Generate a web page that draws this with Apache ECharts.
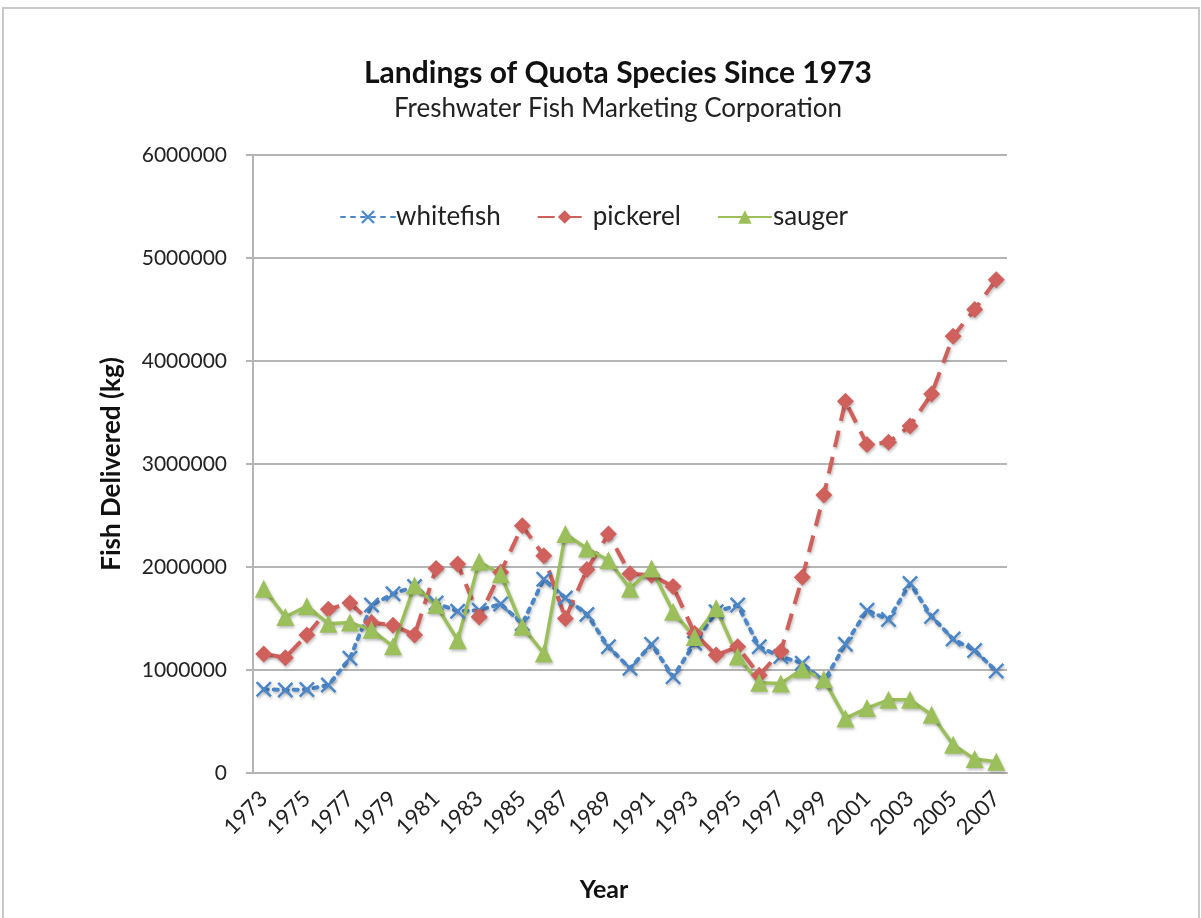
<!DOCTYPE html>
<html>
<head>
<meta charset="utf-8">
<script src="https://cdn.jsdelivr.net/npm/echarts@6/dist/echarts.min.js"></script>
<style>
html,body{margin:0;padding:0;background:#fff;}
#c{width:1201px;height:918px;}
</style>
</head>
<body>
<div id="c"></div>
<script>
const years = ['1973','1974','1975','1976','1977','1978','1979','1980','1981','1982','1983','1984','1985','1986','1987','1988','1989','1990','1991','1992','1993','1994','1995','1996','1997','1998','1999','2000','2001','2002','2003','2004','2005','2006','2007'];
const whitefish = [813000,806000,810000,855000,1113000,1630000,1740000,1810000,1650000,1570000,1580000,1640000,1450000,1880000,1700000,1540000,1225000,1016000,1250000,935000,1260000,1565000,1630000,1225000,1130000,1065000,890000,1250000,1580000,1490000,1840000,1520000,1300000,1190000,990000];
const pickerel = [1155000,1120000,1340000,1590000,1650000,1460000,1435000,1340000,1985000,2030000,1515000,1950000,2400000,2110000,1500000,1975000,2320000,1935000,1920000,1810000,1355000,1145000,1225000,950000,1180000,1900000,2700000,3610000,3190000,3210000,3370000,3680000,4240000,4500000,4790000];
const sauger = [1790000,1515000,1620000,1450000,1460000,1390000,1230000,1820000,1630000,1290000,2050000,1930000,1420000,1160000,2320000,2180000,2065000,1790000,1985000,1565000,1320000,1600000,1130000,877000,870000,1007000,910000,530000,630000,710000,710000,565000,274000,135000,110000];
const yTicks = [0,1000000,2000000,3000000,4000000,5000000,6000000];

const FONT = 'Lato';
const xPath = 'path://M0,1.1 L1.1,0 L5,3.9 L8.9,0 L10,1.1 L6.1,5 L10,8.9 L8.9,10 L5,6.1 L1.1,10 L0,8.9 L3.9,5 Z';
const shadow = {shadowBlur:3, shadowColor:'rgba(0,0,0,0.25)', shadowOffsetX:1, shadowOffsetY:2};

const chart = echarts.init(document.getElementById('c'));
chart.setOption({
  backgroundColor:'#fff',
  animation:false,
  graphic:[{type:'rect', shape:{x:3,y:8,width:1196,height:930}, style:{fill:'none', stroke:'#c8c8c8', lineWidth:2}, silent:true}],
  title:{
    text:'Landings of Quota Species Since 1973',
    subtext:'Freshwater Fish Marketing Corporation',
    left:613, textAlign:'center', top:53, itemGap:8,
    textStyle:{fontFamily:FONT, fontSize:30, fontWeight:'bold', color:'#111'},
    subtextStyle:{fontFamily:FONT, fontSize:26, color:'#222'}
  },
  legend:{
    top:199, left:335, itemGap:36, itemWidth:54, itemHeight:17,
    textStyle:{fontFamily:FONT, fontSize:26, color:'#222', padding:[0,0,0,-4]},
    data:['whitefish','pickerel','sauger']
  },
  grid:{left:253, right:194, top:155, bottom:145, containLabel:false},
  xAxis:{
    type:'category', data:years, boundaryGap:true,
    name:'Year', nameLocation:'middle', nameGap:104,
    nameTextStyle:{fontFamily:FONT, fontSize:25, fontWeight:'bold', color:'#111', padding:[0,52,0,0]},
    axisLine:{lineStyle:{color:'#b4b4b4', width:2}},
    axisTick:{interval:0, length:7, lineStyle:{color:'#b4b4b4', width:2}},
    axisLabel:{interval:1, rotate:45, margin:22, fontFamily:FONT, fontSize:22, color:'#222'}
  },
  yAxis:{
    type:'value', min:0, max:6000000, interval:1000000,
    name:'Fish Delivered (kg)', nameLocation:'middle', nameGap:128,
    nameTextStyle:{fontFamily:FONT, fontSize:26, fontWeight:'bold', color:'#111'},
    axisLine:{show:true, lineStyle:{color:'#b4b4b4', width:2}},
    axisTick:{show:true, length:7, lineStyle:{color:'#b4b4b4', width:2}},
    splitLine:{lineStyle:{color:'#b4b4b4', width:2}},
    axisLabel:{margin:26, fontFamily:FONT, fontSize:21, color:'#222',
      customValues: yTicks, formatter:v=>String(v)}
  },
  series:[
    {name:'whitefish', type:'line', data:whitefish, symbol:xPath, symbolSize:16, showAllSymbol:true,
     lineStyle:Object.assign({color:'#4A86C8', width:4, type:[4,6], cap:'round'}, shadow),
     itemStyle:Object.assign({color:'#4A86C8'}, shadow)},
    {name:'pickerel', type:'line', data:pickerel, symbol:'diamond', symbolSize:17, showAllSymbol:true,
     lineStyle:Object.assign({color:'#D0605B', width:4, type:[17,10]}, shadow),
     itemStyle:Object.assign({color:'#D0605B'}, shadow)},
    {name:'sauger', type:'line', data:sauger, symbol:'triangle', symbolSize:18, showAllSymbol:true,
     lineStyle:Object.assign({color:'#9BC05B', width:3.5}, shadow),
     itemStyle:Object.assign({color:'#9BC05B'}, shadow)}
  ]
});
</script>
</body>
</html>
